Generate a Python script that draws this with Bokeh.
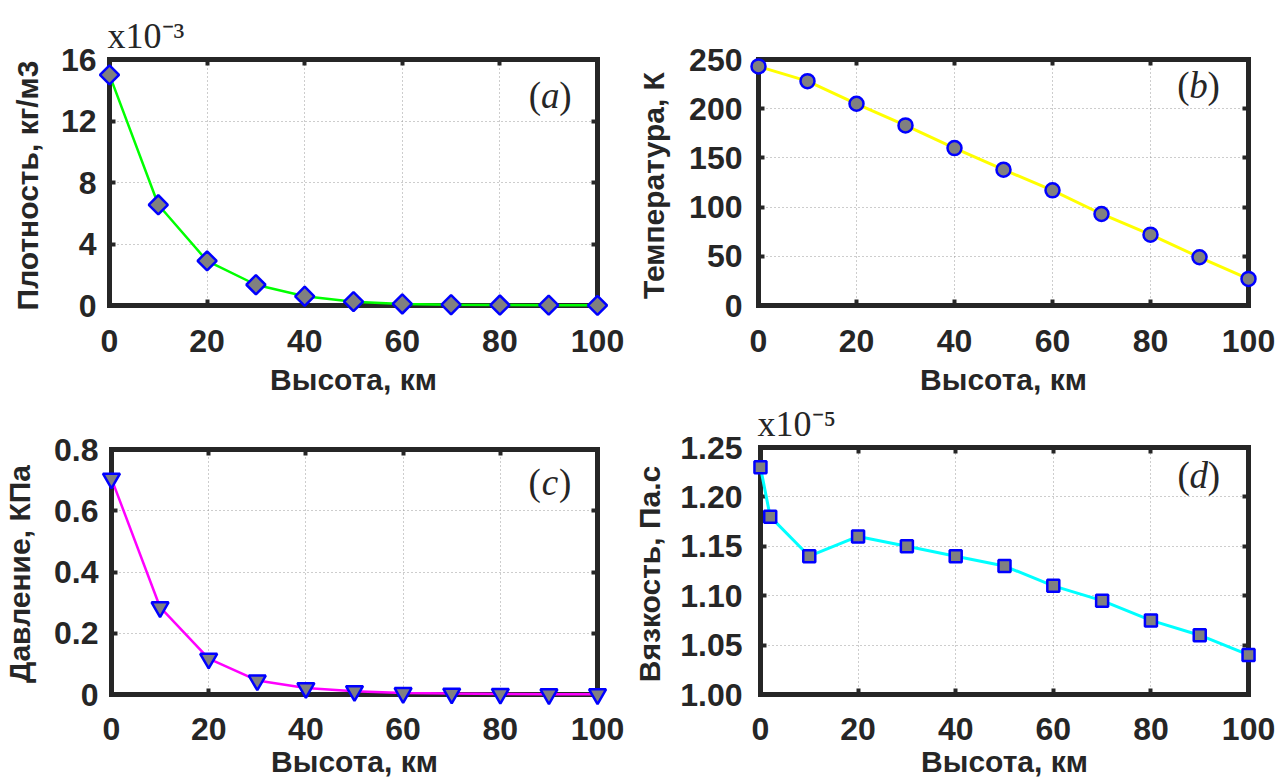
from bokeh.plotting import figure
from bokeh.layouts import column, row
from bokeh.models import (Range1d, LinearAxis, FixedTicker, NumeralTickFormatter,
                          Label, Grid, Title)
from bokeh.embed import file_html
from bokeh.resources import INLINE
import math

# ---------------- data ----------------
height_km = [0, 10, 20, 30, 40, 50, 60, 70, 80, 90, 100]
density_e3 = [15.0, 6.55, 2.9, 1.35, 0.6, 0.25, 0.1, 0.05, 0.03, 0.02, 0.01]      # x10^-3 kg/m3
temperature = [243, 228, 205, 183, 160, 138, 117, 93, 72, 49, 27]                  # K
pressure = [0.705, 0.285, 0.117, 0.046, 0.021, 0.011, 0.005, 0.003, 0.002, 0.001, 0.001]  # kPa
visc_height = [0, 2, 10, 20, 30, 40, 50, 60, 70, 80, 90, 100]
viscosity_e5 = [1.23, 1.18, 1.14, 1.16, 1.15, 1.14, 1.13, 1.11, 1.095, 1.075, 1.06, 1.04]  # x10^-5 Pa.s

x_ticks = [0, 20, 40, 60, 80, 100]
dens_ticks = [0, 4, 8, 12, 16]
temp_ticks = [0, 50, 100, 150, 200, 250]
pres_ticks = [0, 0.2, 0.4, 0.6, 0.8]
visc_ticks = [1.00, 1.05, 1.10, 1.15, 1.20, 1.25]

x_label = "Высота, км"
y_labels = ["Плотность, кг/м3", "Температура, К", "Давление, КПа", "Вязкость, Па.с"]
panel_letters = ["a", "b", "c", "d"]
exponents = ["x10\u207b\u00b3", "x10\u207b\u2075"]

DARK = "#262626"
PAD_L = PAD_R = 11
PAD_B = 10


def text_style(ax):
    ax.major_label_text_font = "Liberation Sans"
    ax.major_label_text_font_style = "bold"
    ax.major_label_text_font_size = "32px"
    ax.major_label_text_color = DARK
    ax.axis_label_text_font = "Liberation Sans"
    ax.axis_label_text_font_style = "bold"
    ax.axis_label_text_font_size = "30px"
    ax.axis_label_text_color = DARK


def box_style(ax):
    ax.axis_line_width = 5
    ax.axis_line_color = DARK
    ax.axis_line_cap = "square"
    ax.major_tick_in = 6
    ax.major_tick_out = 0
    ax.major_tick_line_width = 4
    ax.major_tick_line_color = DARK
    ax.minor_tick_line_color = None
    ax.major_label_text_font_size = "0px"
    ax.major_label_text_color = None
    ax.major_label_standoff = 0


def make_panel(fw, fh, box, xr, yr, xticks, yticks, fmt, ylabel,
               ylab_stand, ytick_stand, xtick_stand, xlab_stand, pad_t):
    L, T, R, B = box
    W, H = R - L, B - T
    xmin, xmax = xr
    ymin, ymax = yr
    sx = (xmax - xmin) / W
    sy = (ymax - ymin) / H
    p = figure(width=fw, height=fh,
               x_range=Range1d(xmin - PAD_L * sx, xmax + PAD_R * sx),
               y_range=Range1d(ymin - PAD_B * sy, ymax + pad_t * sy),
               x_axis_type=None, y_axis_type=None,
               output_backend="svg", toolbar_location=None,
               min_border_left=L - PAD_L, min_border_right=fw - (R + PAD_R),
               min_border_top=T - pad_t, min_border_bottom=fh - (B + PAD_B))
    p.outline_line_color = None
    p.background_fill_color = "white"
    p.border_fill_color = "white"

    # labelled axes (at the frame edge, lines hidden)
    bottom = LinearAxis(ticker=FixedTicker(ticks=xticks), formatter=NumeralTickFormatter(format="0"),
                        axis_label=x_label)
    text_style(bottom)
    bottom.axis_line_color = None
    bottom.major_tick_line_color = None
    bottom.minor_tick_line_color = None
    bottom.major_tick_in = 0
    bottom.major_tick_out = 0
    bottom.major_label_standoff = xtick_stand
    bottom.axis_label_standoff = xlab_stand
    p.add_layout(bottom, "below")

    left = LinearAxis(ticker=FixedTicker(ticks=yticks), formatter=NumeralTickFormatter(format=fmt),
                      axis_label=ylabel)
    text_style(left)
    left.axis_line_color = None
    left.major_tick_line_color = None
    left.minor_tick_line_color = None
    left.major_tick_in = 0
    left.major_tick_out = 0
    left.major_label_standoff = ytick_stand
    left.axis_label_standoff = ylab_stand
    p.add_layout(left, "left")

    # box with inward ticks on all four sides
    for side, ticks, loc, bnd in (("below", xticks, ymin, (xmin, xmax)),
                                  ("above", xticks, ymax, (xmin, xmax)),
                                  ("left", yticks, xmin, (ymin, ymax)),
                                  ("right", yticks, xmax, (ymin, ymax))):
        ax = LinearAxis(ticker=FixedTicker(ticks=ticks), fixed_location=loc, bounds=bnd)
        box_style(ax)
        p.add_layout(ax, side)

    gx = Grid(dimension=0, ticker=FixedTicker(ticks=xticks), cross_bounds=(ymin, ymax),
              grid_line_color="#9a9a9a", grid_line_dash="1 3", grid_line_width=1)
    gy = Grid(dimension=1, ticker=FixedTicker(ticks=yticks), cross_bounds=(xmin, xmax),
              grid_line_color="#9a9a9a", grid_line_dash="1 3", grid_line_width=1)
    p.add_layout(gx)
    p.add_layout(gy)
    return p


def add_letter(p, x, y, letter):
    common = dict(x=x, y=y, text_font="Liberation Serif", text_font_size="37px",
                  text_color=DARK, text_baseline="middle")
    p.add_layout(Label(text="(", text_align="right", x_offset=-9, **common))
    p.add_layout(Label(text=letter, text_align="center", text_font_style="italic", **common))
    p.add_layout(Label(text=")", text_align="left", x_offset=9, **common))


def add_exponent(p, text, offset):
    t = Title(text=text, text_font="Liberation Serif", text_font_size="36px",
              text_font_style="normal", text_color=DARK, align="left",
              offset=offset, standoff=0, vertical_align="bottom")
    p.add_layout(t, "above")


MARK = dict(fill_color="#808080", line_color="#0000ff", line_width=2.5, level="overlay")

# (a) density
pa = make_panel(630, 400, (109, 59, 597, 305), (0, 100), (0, 16), x_ticks, dens_ticks, "0",
                y_labels[0], 14, 2, 14, 8, pad_t=4)
pa.line(height_km, density_e3, line_color="#00ff00", line_width=2.5, level="overlay")
pa.scatter(height_km, density_e3, marker="square", angle=math.pi / 4, size=13.5, **MARK)
add_letter(pa, 90.3, 13.65, panel_letters[0])
add_exponent(pa, exponents[0], 9)

# (b) temperature
pb = make_panel(651, 400, (128, 59, 618, 305), (0, 100), (0, 250), x_ticks, temp_ticks, "0",
                y_labels[1], 16, 5, 14, 8, pad_t=4)
pb.line(height_km, temperature, line_color="#ffff00", line_width=3, level="overlay")
pb.scatter(height_km, temperature, marker="circle", size=14, **MARK)
add_letter(pb, 89.8, 223.5, panel_letters[1])

# (c) pressure
pc = make_panel(630, 381, (109, 49, 597, 294), (0, 100), (0, 0.8), x_ticks, pres_ticks, "0.[0]",
                y_labels[2], 15, 2, 13, 2, pad_t=6)
pc.line(height_km, pressure, line_color="#ff00ff", line_width=2.5, level="overlay")
pc.scatter(height_km, pressure, marker="inverted_triangle", size=17, **MARK)
add_letter(pc, 90.2, 0.692, panel_letters[2])

# (d) viscosity
pd_ = make_panel(651, 381, (128, 47, 618, 294), (0, 100), (1.0, 1.25), x_ticks, visc_ticks, "0.00",
                 y_labels[3], 11, 7, 13, 2, pad_t=4)
pd_.line(visc_height, viscosity_e5, line_color="#00ffff", line_width=3, level="overlay")
pd_.scatter(visc_height, viscosity_e5, marker="square", size=12, **MARK)
add_letter(pd_, 89.8, 1.222, panel_letters[3])
add_exponent(pd_, exponents[1], 8)

layout = column(row(pa, pb), row(pc, pd_))

open("out.html", "w").write(file_html(layout, INLINE))
